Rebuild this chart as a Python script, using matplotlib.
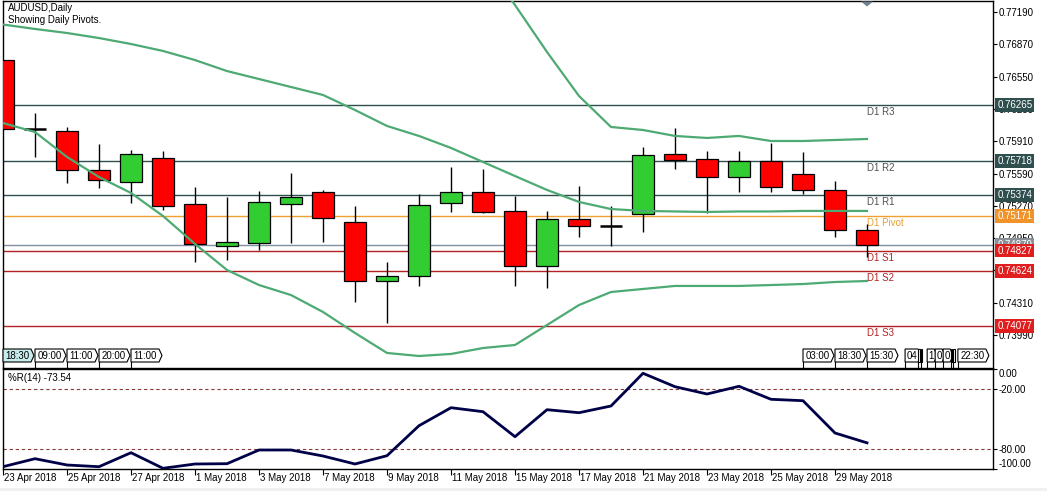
import numpy as np
import matplotlib
matplotlib.use("Agg")
import matplotlib.pyplot as plt
import matplotlib.transforms as mtransforms
from matplotlib.patches import Rectangle, Polygon

plt.rcParams['font.family'] = ['Liberation Sans', 'DejaVu Sans']

# --- data (AUDUSD daily) ---
dates = ["23 Apr 2018", "24 Apr 2018", "25 Apr 2018", "26 Apr 2018", "27 Apr 2018",
         "30 Apr 2018", "1 May 2018", "2 May 2018", "3 May 2018", "4 May 2018",
         "7 May 2018", "8 May 2018", "9 May 2018", "10 May 2018", "11 May 2018",
         "14 May 2018", "15 May 2018", "16 May 2018", "17 May 2018", "18 May 2018",
         "21 May 2018", "22 May 2018", "23 May 2018", "24 May 2018", "25 May 2018",
         "28 May 2018", "29 May 2018", "30 May 2018"]
opens = [0.76714, 0.76031, 0.76011, 0.75625, 0.75506, 0.75744, 0.75288, 0.74872, 0.74902, 0.75291,
         0.75407, 0.75110, 0.74522, 0.74572, 0.75295, 0.75404, 0.75216, 0.74671, 0.75136, 0.75073,
         0.75186, 0.75780, 0.75731, 0.75553, 0.75717, 0.75585, 0.75424, 0.75027]
highs = [0.76714, 0.76189, 0.76051, 0.75882, 0.75823, 0.75813, 0.75456, 0.75357, 0.75417, 0.75595,
         0.75427, 0.75268, 0.74713, 0.75387, 0.75655, 0.75635, 0.75370, 0.75219, 0.75466, 0.75268,
         0.75853, 0.76041, 0.75813, 0.75813, 0.75895, 0.75803, 0.75516, 0.75087]
lows = [0.76031, 0.75754, 0.75496, 0.75446, 0.75298, 0.75228, 0.74713, 0.74733, 0.74832, 0.74905,
        0.74911, 0.74318, 0.74112, 0.74479, 0.75212, 0.75202, 0.74479, 0.74459, 0.74964, 0.74875,
        0.75014, 0.75638, 0.75199, 0.75410, 0.75410, 0.75387, 0.74964, 0.74760]
closes = [0.76031, 0.76031, 0.75625, 0.75526, 0.75783, 0.75268, 0.74892, 0.74912, 0.75307, 0.75354,
          0.75149, 0.74525, 0.74572, 0.75275, 0.75404, 0.75212, 0.74671, 0.75136, 0.75067, 0.75073,
          0.75770, 0.75721, 0.75553, 0.75717, 0.75453, 0.75424, 0.75027, 0.74879]

# bollinger bands
bb_mid = [0.77066, 0.77022, 0.76982, 0.76932, 0.76873, 0.76804, 0.76714, 0.76605, 0.76526, 0.76447,
          0.76368, 0.76219, 0.76061, 0.75962, 0.75843, 0.75704, 0.75565, 0.75427, 0.75308, 0.75238,
          0.75219, 0.75214, 0.75209, 0.75214, 0.75214, 0.75219, 0.75219, 0.75219]
bb_low = [0.76090, 0.76001, 0.75754, 0.75555, 0.75397, 0.75169, 0.74892, 0.74634, 0.74485, 0.74386,
          0.74218, 0.74010, 0.73812, 0.73782, 0.73802, 0.73861, 0.73891, 0.74089, 0.74287, 0.74416,
          0.74446, 0.74476, 0.74476, 0.74476, 0.74485, 0.74495, 0.74515, 0.74525]
bb_up = [np.nan] * 15 + [0.77705, 0.77259, 0.76794, 0.76358, 0.76051, 0.76021, 0.75962, 0.75942,
                         0.75962, 0.75912, 0.75912, 0.75922, 0.75932]

# daily pivots
level_names = ["D1 R3", "D1 R2", "D1 R1", "D1 Pivot", "D1 S1", "D1 S2", "D1 S3"]
level_values = [0.76265, 0.75718, 0.75374, 0.75171, 0.74827, 0.74624, 0.74077]
bid = 0.74879

# Williams %R(14)
wpr = [-97.4, -89.4, -95.7, -97.4, -83.4, -99.0, -94.7, -94.4, -80.7, -80.7,
       -86.7, -94.7, -86.4, -56.4, -38.4, -42.4, -67.4, -40.4, -43.4, -36.7,
       -4.0, -17.4, -24.7, -17.0, -30.0, -31.4, -63.7, -73.54]

price_ticks = [0.77190, 0.76870, 0.76550, 0.76230, 0.75910, 0.75590,
               0.75270, 0.74950, 0.74630, 0.74310, 0.73990]
events = [("18:30", 0), ("09:00", 1), ("11:00", 2), ("20:00", 3), ("11:00", 4),
          ("03:00", 25), ("18:30", 26), ("15:30", 27), ("04", 28.19), ("", 28.6), ("", 28.68),
          ("1", 28.88), ("0", 29.13), ("0", 29.38), ("", 29.62), ("", 29.69), ("22:30", 29.84)]

# --- figure ---
W, H = 1047, 491
fig = plt.figure(figsize=(W / 100, H / 100), dpi=100)


def px_axes(x0, y0, x1, y1, **kw):
    return fig.add_axes([x0 / W, 1 - y1 / H, (x1 - x0) / W, (y1 - y0) / H], **kw)


ax = px_axes(3, 1, 993, 367.5)
ax2 = px_axes(3, 369.3, 993, 469.3)
xmax = 990 / 32
n = len(dates)
x = np.arange(n)

for a in (ax, ax2):
    a.set_xlim(0, xmax)
    a.set_xticks([])
    for s in a.spines.values():
        s.set_color("black")
        s.set_linewidth(1)

ax.set_ylim(0.73668, 0.77299)

# pivot lines
level_colors = ["#2F4F4F", "#2F4F4F", "#2F4F4F", "#F0A030", "#B22222", "#B22222", "#B22222"]
text_colors = ["#505050", "#505050", "#505050", "#E8A030", "#B22222", "#B22222", "#B22222"]
box_colors = ["#2F4F4F", "#2F4F4F", "#2F4F4F", "#F0932B", "#E01E1E", "#E01E1E", "#E01E1E"]
for name, v, lc, tc in zip(level_names, level_values, level_colors, text_colors):
    ax.axhline(v, color=lc, lw=1, zorder=1)
    ax.annotate(name, (27, v), xytext=(0, -1.5), textcoords="offset points",
                ha="left", va="top", fontsize=7, color=tc, zorder=1)
ax.axhline(bid, color="#8090A0", lw=1, zorder=1)

# candles
for i in range(n):
    o, h, l, c = opens[i], highs[i], lows[i], closes[i]
    ax.vlines(i, l, h, color="black", lw=1, zorder=2)
    if abs(c - o) < 1e-6:
        ax.hlines(o, i - 0.34, i + 0.34, color="black", lw=1.8, zorder=3)
    else:
        col = "#32CD32" if c > o else "#FF0000"
        ax.add_patch(Rectangle((i - 0.34, min(o, c)), 0.68, abs(c - o),
                               facecolor=col, edgecolor="black", lw=0.9, zorder=3))

# bollinger bands
for band in (bb_up, bb_mid, bb_low):
    ax.plot(x, band, color="#4DAA73", lw=1.6, zorder=4)

# right price axis
ax.yaxis.tick_right()
ax.set_yticks(price_ticks)
ax.set_yticklabels([f"{p:.5f}" for p in price_ticks])
ax.tick_params(axis="y", direction="out", length=3, width=0.8, pad=1, labelsize=7)

lab_tr = mtransforms.blended_transform_factory(ax.transAxes, ax.transData)
ax.text(1.0042, bid, f"{bid:.5f}", transform=lab_tr, ha="left", va="center",
        fontsize=7, color="white", clip_on=False, zorder=6,
        bbox=dict(boxstyle="square,pad=0.2", fc="#8A9098", ec="none"))
for v, bc in zip(level_values, box_colors):
    ax.text(1.0042, v, f"{v:.5f}", transform=lab_tr, ha="left", va="center",
            fontsize=7, color="white", clip_on=False, zorder=7,
            bbox=dict(boxstyle="square,pad=0.2", fc=bc, ec="none"))

ax.text(5 / 990, 1 - 7 / 366.5, "AUDUSD,Daily", transform=ax.transAxes,
        fontsize=7, ha="left", va="center")
ax.text(5 / 990, 1 - 19 / 366.5, "Showing Daily Pivots.", transform=ax.transAxes,
        fontsize=7, ha="left", va="center")

# Williams %R panel
ax2.set_ylim(-100, 0)
ax2.plot(x, wpr, color="#000048", lw=2, zorder=3)
for lv in (-20, -80):
    ax2.axhline(lv, color="#8B3A3A", lw=0.8, ls=(0, (3, 2.5)), zorder=1)
ax2.yaxis.tick_right()
ax2.set_yticks([0, -20, -80, -100])
ax2.set_yticklabels(["0.00", "-20.00", "-80.00", "-100.00"])
ax2.tick_params(axis="y", direction="out", length=3, width=0.8, pad=1, labelsize=7)
tl = ax2.get_yticklabels()
tl[0].set_va("top")
tl[3].set_va("bottom")
ax2.text(5 / 990, 0.91, "%R(14) -73.54", transform=ax2.transAxes, fontsize=7,
         ha="left", va="center")

ax2.set_xticks(x[::2])
ax2.set_xticklabels([])
ax2.tick_params(axis="x", direction="out", length=4, width=0.8)
dtr = mtransforms.blended_transform_factory(ax2.transData, ax2.transAxes)
for i in range(0, n, 2):
    ax2.text(i + 0.03, -0.09, dates[i], transform=dtr, fontsize=7, ha="left", va="center")

# overlay in pixel coords for the MT4 decorations
ov = fig.add_axes([0, 0, 1, 1], zorder=10)
ov.set_xlim(0, W)
ov.set_ylim(H, 0)
ov.axis("off")
ov.patch.set_alpha(0)

ov.add_patch(Rectangle((0, 488), W, 3, fc="#F0F0F0", ec="none"))
tip = ax.transData.transform((27, 0))[0]
ov.add_patch(Polygon([(tip - 6, 1.5), (tip + 6, 1.5), (tip, 6.5)], closed=True,
                     fc="#708090", ec="none"))

for k, (lab, bar) in enumerate(events):
    x0 = ax.transData.transform((bar, 0))[0]
    wbox = 28 if len(lab) == 5 else (13 if len(lab) == 2 else (7 if len(lab) == 1 else 1.5))
    fc = "#C8ECEE" if k == 0 else "white"
    pts = [(x0, 349), (x0 + wbox, 349), (x0 + wbox + (3 if lab else 0), 355.5),
           (x0 + wbox, 362), (x0, 362)]
    ov.add_patch(Polygon(pts, closed=True, fc=fc, ec="black", lw=0.8))
    ov.plot([x0, x0], [362, 367], color="black", lw=0.8)
    if lab:
        ov.text(x0 + wbox / 2 + 0.5, 356, lab, fontsize=7, ha="center", va="center")

fig.savefig("out.png", dpi=100, facecolor="white")
